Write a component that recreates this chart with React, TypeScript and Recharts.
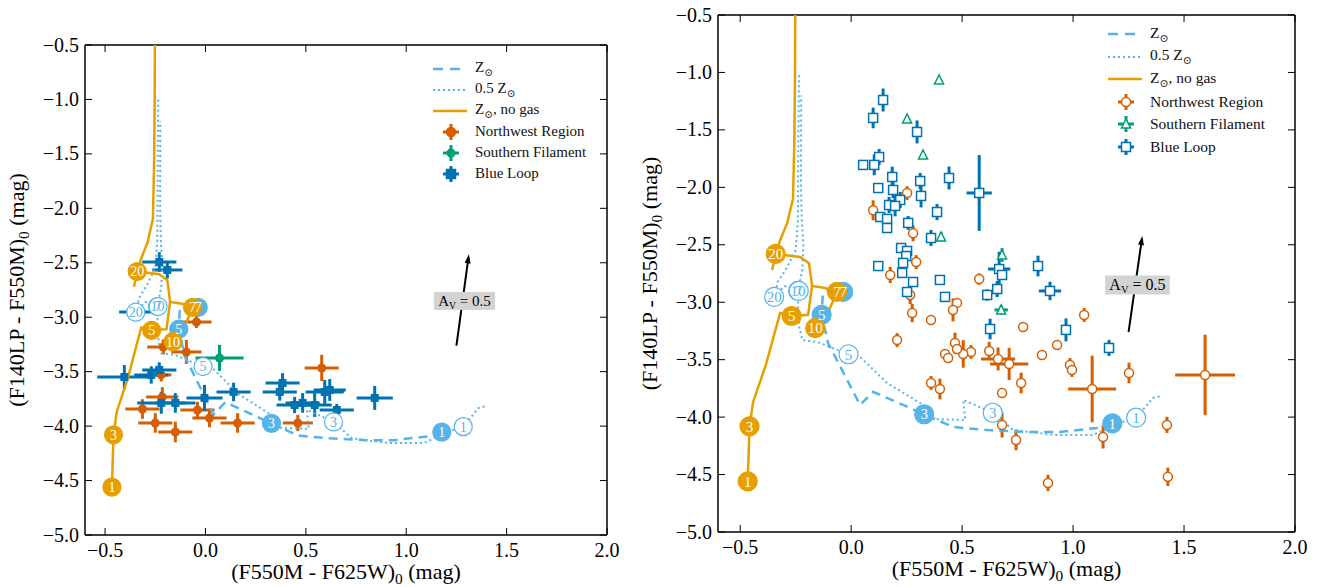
import React from "react";
import { ComposedChart, Scatter, XAxis, YAxis, ErrorBar } from "recharts";

const ORANGE = "#E69F00";
const VERMILION = "#D55E00";
const GREEN = "#009E73";
const BLUE = "#0072B2";
const SKY = "#56B4E9";
const FONT = "'Liberation Serif', 'DejaVu Serif', serif";

const xTicks = [-0.5, 0, 0.5, 1, 1.5, 2];
const yTicks = [-5, -4.5, -4, -3.5, -3, -2.5, -2, -1.5, -1, -0.5];

// model tracks (same in both panels)
const noGasUpper = [
  { x: -0.252, y: -0.5 }, { x: -0.253, y: -1.0 }, { x: -0.256, y: -1.6 }, { x: -0.262, y: -2.1 },
  { x: -0.288, y: -2.31 }, { x: -0.32, y: -2.46 }, { x: -0.34, y: -2.58 }, { x: -0.356, y: -2.72 },
  { x: -0.34, y: -2.58 }, { x: -0.23, y: -2.606 }, { x: -0.19, y: -2.66 }, { x: -0.176, y: -2.859 },
  { x: -0.117, y: -2.876 }, { x: -0.064, y: -2.91 }, { x: -0.1, y: -3.07 }, { x: -0.162, y: -3.225 },
];
const noGasLower = [
  { x: -0.466, y: -4.56 }, { x: -0.458, y: -4.08 }, { x: -0.442, y: -3.87 }, { x: -0.385, y: -3.55 },
  { x: -0.32, y: -3.094 }, { x: -0.268, y: -3.12 }, { x: -0.194, y: -3.11 }, { x: -0.185, y: -2.98 },
  { x: -0.176, y: -2.859 },
];
const solarTrack = [
  { x: 1.177, y: -4.055 }, { x: 1.108, y: -4.094 }, { x: 0.941, y: -4.129 }, { x: 0.793, y: -4.129 },
  { x: 0.613, y: -4.112 }, { x: 0.459, y: -4.086 }, { x: 0.329, y: -3.975 }, { x: 0.099, y: -3.78 },
  { x: 0.04, y: -3.894 }, { x: -0.081, y: -3.44 }, { x: -0.104, y: -3.355 }, { x: -0.133, y: -3.11 },
  { x: -0.128, y: -2.94 }, { x: -0.09, y: -2.87 }, { x: -0.036, y: -2.91 },
];
const halfSolarTrack = [
  { x: 1.39, y: -3.82 }, { x: 1.36, y: -3.833 }, { x: 1.284, y: -4.005 }, { x: 1.21, y: -4.05 },
  { x: 1.09, y: -4.155 }, { x: 0.91, y: -4.155 }, { x: 0.73, y: -4.112 }, { x: 0.638, y: -3.962 },
  { x: 0.505, y: -3.85 }, { x: 0.514, y: -4.025 }, { x: 0.369, y: -4.016 }, { x: 0.311, y: -3.877 },
  { x: 0.162, y: -3.703 }, { x: 0.04, y: -3.476 }, { x: -0.012, y: -3.453 }, { x: -0.153, y: -3.346 },
  { x: -0.22, y: -3.33 }, { x: -0.234, y: -3.215 }, { x: -0.239, y: -3.04 }, { x: -0.239, y: -2.902 },
  { x: -0.3, y: -2.86 }, { x: -0.347, y: -2.954 },
];
const halfSolarUpper = [
  { x: -0.347, y: -2.954 }, { x: -0.33, y: -2.82 }, { x: -0.29, y: -2.7 }, { x: -0.25, y: -2.55 },
  { x: -0.24, y: -2.3 }, { x: -0.238, y: -1.6 }, { x: -0.235, y: -1.0 },
];
const halfSolarLoop = [
  { x: -0.239, y: -2.902 }, { x: -0.22, y: -2.72 }, { x: -0.215, y: -2.5 }, { x: -0.222, y: -2.3 },
  { x: -0.226, y: -2.0 }, { x: -0.225, y: -1.2 },
];

const noGasLabels = [
  { x: -0.466, y: -4.56, t: "1" }, { x: -0.458, y: -4.08, t: "3" }, { x: -0.268, y: -3.12, t: "5" },
  { x: -0.064, y: -2.91, t: "7" }, { x: -0.162, y: -3.225, t: "10" }, { x: -0.34, y: -2.58, t: "20" },
];
const solarLabels = [
  { x: 1.177, y: -4.055, t: "1" }, { x: 0.329, y: -3.975, t: "3" }, { x: -0.133, y: -3.11, t: "5" },
  { x: -0.036, y: -2.91, t: "7" },
];
const halfSolarLabels = [
  { x: 1.284, y: -4.005, t: "1" }, { x: 0.638, y: -3.962, t: "3" }, { x: -0.012, y: -3.453, t: "5" },
  { x: -0.239, y: -2.902, t: "10" }, { x: -0.236, y: -2.902, t: "7" }, { x: -0.347, y: -2.954, t: "20" },
];

// extinction vector
const avArrow = [{ x: 1.25, y: -3.26 }, { x: 1.31, y: -2.45 }];
const avLabel = [{ x: 1.29, y: -2.85 }];

// left panel: binned regions
const leftNorthwest = [
  { x: -0.045, y: -3.044, ex: 0.075, ey: 0.055 }, { x: -0.21, y: -3.273, ex: 0.08, ey: 0.07 },
  { x: -0.095, y: -3.319, ex: 0.075, ey: 0.11 }, { x: 0.579, y: -3.466, ex: 0.085, ey: 0.12 },
  { x: -0.22, y: -3.53, ex: 0.05, ey: 0.06 }, { x: -0.215, y: -3.732, ex: 0.08, ey: 0.09 },
  { x: -0.314, y: -3.843, ex: 0.085, ey: 0.09 }, { x: -0.04, y: -3.852, ex: 0.085, ey: 0.075 },
  { x: 0.02, y: -3.925, ex: 0.085, ey: 0.085 }, { x: -0.25, y: -3.971, ex: 0.085, ey: 0.09 },
  { x: 0.16, y: -3.971, ex: 0.085, ey: 0.09 }, { x: 0.46, y: -3.971, ex: 0.075, ey: 0.075 },
  { x: -0.15, y: -4.054, ex: 0.085, ey: 0.095 },
];
const leftSouthern = [{ x: 0.07, y: -3.374, ex: 0.12, ey: 0.12 }];
const leftBlueLoop = [
  { x: -0.23, y: -2.493, ex: 0.085, ey: 0.09 }, { x: -0.19, y: -2.566, ex: 0.075, ey: 0.08 },
  { x: -0.33, y: -2.952, ex: 0.1, ey: 0.07 }, { x: -0.404, y: -3.549, ex: 0.135, ey: 0.11 },
  { x: -0.27, y: -3.53, ex: 0.085, ey: 0.08 }, { x: -0.23, y: -3.484, ex: 0.085, ey: 0.07 },
  { x: -0.22, y: -3.787, ex: 0.12, ey: 0.1 }, { x: -0.15, y: -3.787, ex: 0.1, ey: 0.09 },
  { x: -0.005, y: -3.741, ex: 0.09, ey: 0.12 }, { x: 0.14, y: -3.686, ex: 0.085, ey: 0.085 },
  { x: 0.384, y: -3.604, ex: 0.085, ey: 0.09 }, { x: 0.37, y: -3.686, ex: 0.085, ey: 0.08 },
  { x: 0.444, y: -3.806, ex: 0.09, ey: 0.075 }, { x: 0.484, y: -3.787, ex: 0.085, ey: 0.09 },
  { x: 0.544, y: -3.806, ex: 0.085, ey: 0.11 }, { x: 0.594, y: -3.686, ex: 0.095, ey: 0.11 },
  { x: 0.619, y: -3.668, ex: 0.08, ey: 0.1 }, { x: 0.654, y: -3.852, ex: 0.085, ey: 0.055 },
  { x: 0.843, y: -3.741, ex: 0.09, ey: 0.11 },
];

// right panel: individual clusters
const rightNorthwest = [
  { x: 0.099, y: -2.2, ex: 0, ey: 0.087 }, { x: 0.252, y: -2.05, ex: 0, ey: 0.06 },
  { x: 0.279, y: -2.4, ex: 0, ey: 0.07 }, { x: 0.293, y: -2.65, ex: 0, ey: 0.06 },
  { x: 0.176, y: -2.763, ex: 0, ey: 0.07 }, { x: 0.266, y: -2.937, ex: 0, ey: 0.08 },
  { x: 0.275, y: -3.094, ex: 0, ey: 0.08 }, { x: 0.207, y: -3.329, ex: 0, ey: 0.06 },
  { x: 0.36, y: -3.155, ex: 0, ey: 0.04 }, { x: 0.577, y: -2.798, ex: 0, ey: 0.05 },
  { x: 0.477, y: -3.006, ex: 0, ey: 0 }, { x: 0.459, y: -3.067, ex: 0, ey: 0.1 },
  { x: 0.775, y: -3.215, ex: 0, ey: 0 }, { x: 1.05, y: -3.111, ex: 0, ey: 0.06 },
  { x: 0.928, y: -3.372, ex: 0, ey: 0 }, { x: 0.86, y: -3.459, ex: 0, ey: 0 },
  { x: 0.986, y: -3.546, ex: 0, ey: 0.06 }, { x: 0.995, y: -3.59, ex: 0, ey: 0.06 },
  { x: 1.252, y: -3.616, ex: 0, ey: 0.09 }, { x: 1.086, y: -3.755, ex: 0.108, ey: 0.29 },
  { x: 0.766, y: -3.703, ex: 0, ey: 0.09 }, { x: 0.68, y: -3.79, ex: 0, ey: 0 },
  { x: 0.712, y: -3.537, ex: 0.086, ey: 0.14 }, { x: 0.662, y: -3.494, ex: 0.077, ey: 0.1 },
  { x: 0.622, y: -3.424, ex: 0, ey: 0.08 }, { x: 0.54, y: -3.433, ex: 0, ey: 0.06 },
  { x: 0.505, y: -3.45, ex: 0, ey: 0.12 }, { x: 0.468, y: -3.355, ex: 0, ey: 0.09 },
  { x: 0.477, y: -3.407, ex: 0, ey: 0 }, { x: 0.423, y: -3.45, ex: 0, ey: 0 },
  { x: 0.437, y: -3.485, ex: 0, ey: 0 }, { x: 0.4, y: -3.755, ex: 0, ey: 0.09 },
  { x: 0.36, y: -3.703, ex: 0, ey: 0.06 }, { x: 0.68, y: -4.068, ex: 0, ey: 0.11 },
  { x: 0.743, y: -4.199, ex: 0, ey: 0.09 }, { x: 1.135, y: -4.173, ex: 0, ey: 0.1 },
  { x: 1.595, y: -3.633, ex: 0.135, ey: 0.35 }, { x: 0.887, y: -4.573, ex: 0, ey: 0.07 },
  { x: 1.423, y: -4.068, ex: 0, ey: 0.07 }, { x: 1.427, y: -4.52, ex: 0, ey: 0.08 },
];
const rightSouthern = [
  { x: 0.396, y: -1.066, ex: 0, ey: 0 }, { x: 0.252, y: -1.405, ex: 0, ey: 0 },
  { x: 0.324, y: -1.718, ex: 0, ey: 0 }, { x: 0.405, y: -2.432, ex: 0, ey: 0.04 },
  { x: 0.68, y: -2.589, ex: 0, ey: 0.06 }, { x: 0.676, y: -3.067, ex: 0.03, ey: 0.04 },
];
const rightBlueLoop = [
  { x: 0.144, y: -1.24, ex: 0, ey: 0.1 }, { x: 0.099, y: -1.396, ex: 0, ey: 0.09 },
  { x: 0.297, y: -1.518, ex: 0, ey: 0.1 }, { x: 0.126, y: -1.736, ex: 0, ey: 0.07 },
  { x: 0.054, y: -1.805, ex: 0, ey: 0.04 }, { x: 0.104, y: -1.805, ex: 0, ey: 0.09 },
  { x: 0.185, y: -1.91, ex: 0, ey: 0.09 }, { x: 0.311, y: -1.945, ex: 0, ey: 0.07 },
  { x: 0.441, y: -1.919, ex: 0, ey: 0.1 }, { x: 0.122, y: -2.006, ex: 0, ey: 0.04 },
  { x: 0.189, y: -2.023, ex: 0, ey: 0.07 }, { x: 0.315, y: -2.075, ex: 0, ey: 0.1 },
  { x: 0.221, y: -2.11, ex: 0, ey: 0.07 }, { x: 0.171, y: -2.154, ex: 0, ey: 0.07 },
  { x: 0.198, y: -2.162, ex: 0, ey: 0.09 }, { x: 0.577, y: -2.049, ex: 0.057, ey: 0.33 },
  { x: 0.387, y: -2.215, ex: 0, ey: 0.07 }, { x: 0.131, y: -2.258, ex: 0, ey: 0 },
  { x: 0.162, y: -2.275, ex: 0, ey: 0.04 }, { x: 0.257, y: -2.31, ex: 0, ey: 0.06 },
  { x: 0.162, y: -2.354, ex: 0, ey: 0 }, { x: 0.36, y: -2.441, ex: 0, ey: 0.07 },
  { x: 0.225, y: -2.528, ex: 0, ey: 0 }, { x: 0.252, y: -2.554, ex: 0, ey: 0 },
  { x: 0.248, y: -2.598, ex: 0, ey: 0 }, { x: 0.122, y: -2.685, ex: 0, ey: 0 },
  { x: 0.234, y: -2.658, ex: 0, ey: 0.03 }, { x: 0.23, y: -2.745, ex: 0, ey: 0.04 },
  { x: 0.279, y: -2.824, ex: 0, ey: 0.04 }, { x: 0.252, y: -2.911, ex: 0, ey: 0.04 },
  { x: 0.4, y: -2.806, ex: 0, ey: 0.04 }, { x: 0.423, y: -2.954, ex: 0, ey: 0.04 },
  { x: 0.667, y: -2.711, ex: 0.05, ey: 0.15 }, { x: 0.68, y: -2.763, ex: 0, ey: 0 },
  { x: 0.658, y: -2.885, ex: 0, ey: 0.07 }, { x: 0.613, y: -2.937, ex: 0, ey: 0.05 },
  { x: 0.842, y: -2.685, ex: 0, ey: 0.09 }, { x: 0.896, y: -2.902, ex: 0.05, ey: 0.08 },
  { x: 0.626, y: -3.233, ex: 0, ey: 0.09 }, { x: 0.968, y: -3.241, ex: 0, ey: 0.1 },
  { x: 1.162, y: -3.398, ex: 0, ey: 0.07 },
];

function fmt(v: number) {
  const s = Math.abs(v).toFixed(1);
  return v < 0 ? "\u2212" + s : s;
}

const TICK = 7;

function Panel(props: any) {
  const { width, height, margin, northwest, southern, blueLoop, open, labelR, labelFs, tickFs, titleFs, yTitleDx } = props;

  const BottomTick = (p: any) => (
    <g>
      <line x1={p.x} x2={p.x} y1={p.y} y2={p.y - TICK} stroke="#000" />
      <text x={p.x} y={p.y + tickFs + 2} textAnchor="middle" fontFamily={FONT} fontSize={tickFs} fill="#000">
        {fmt(p.payload.value)}
      </text>
    </g>
  );
  const LeftTick = (p: any) => (
    <g>
      <line x1={p.x} x2={p.x + TICK} y1={p.y} y2={p.y} stroke="#000" />
      <text x={p.x - 6} y={p.y + tickFs * 0.33} textAnchor="end" fontFamily={FONT} fontSize={tickFs} fill="#000">
        {fmt(p.payload.value)}
      </text>
    </g>
  );
  const TopTick = (p: any) => <line x1={p.x} x2={p.x} y1={p.y} y2={p.y + TICK} stroke="#000" />;
  const RightTick = (p: any) => <line x1={p.x} x2={p.x - TICK} y1={p.y} y2={p.y} stroke="#000" />;

  const XTitle = (p: any) => {
    const vb = p.viewBox;
    return (
      <text x={vb.x + vb.width / 2} y={vb.y + 44} textAnchor="middle" fontFamily={FONT} fontSize={titleFs} fill="#000">
        (F550M - F625W)<tspan dy={5} fontSize={titleFs * 0.7}>0</tspan><tspan dy={-5}> (mag)</tspan>
      </text>
    );
  };
  const YTitle = (p: any) => {
    const vb = p.viewBox;
    const cx = vb.x + yTitleDx;
    const cy = vb.y + vb.height / 2;
    return (
      <text x={cx} y={cy} transform={`rotate(-90, ${cx}, ${cy})`} textAnchor="middle" fontFamily={FONT} fontSize={titleFs} fill="#000">
        (F140LP - F550M)<tspan dy={5} fontSize={titleFs * 0.7}>0</tspan><tspan dy={-5}> (mag)</tspan>
      </text>
    );
  };

  const none = () => <g />;
  const labelShape = (fill: string, stroke: string, color: string, circle: boolean, text: boolean) => (p: any) => (
    <g>
      {circle && <circle cx={p.cx} cy={p.cy} r={labelR} fill={fill} stroke={stroke} strokeWidth={1.2} />}
      {text && (
        <text x={p.cx} y={p.cy + labelFs * 0.35} textAnchor="middle" fontFamily={FONT} fontSize={labelFs} fill={color}>
          {p.payload.t}
        </text>
      )}
    </g>
  );

  const nwShape = (p: any) =>
    open ? (
      <circle cx={p.cx} cy={p.cy} r={4.5} fill="#fff" stroke={VERMILION} strokeWidth={1.5} />
    ) : (
      <circle cx={p.cx} cy={p.cy} r={4.5} fill={VERMILION} />
    );
  const blShape = (p: any) =>
    open ? (
      <rect x={p.cx - 4.5} y={p.cy - 4.5} width={9} height={9} fill="#fff" stroke={BLUE} strokeWidth={1.5} />
    ) : (
      <rect x={p.cx - 4} y={p.cy - 4} width={8} height={8} fill={BLUE} />
    );
  const sfShape = (p: any) =>
    open ? (
      <polygon points={`${p.cx},${p.cy - 5} ${p.cx - 4.5},${p.cy + 4} ${p.cx + 4.5},${p.cy + 4}`} fill="#fff" stroke={GREEN} strokeWidth={1.5} />
    ) : (
      <circle cx={p.cx} cy={p.cy} r={4.5} fill={GREEN} />
    );

  const tipY = Math.max(...avArrow.map((d) => d.y));
  const arrowShape = (p: any) =>
    p.payload.y === tipY ? (
      <polygon
        points={`${p.cx},${p.cy - 3} ${p.cx - 3},${p.cy + 6} ${p.cx + 3},${p.cy + 6}`}
        transform={`rotate(8.5, ${p.cx}, ${p.cy})`}
        fill="#000"
      />
    ) : (
      <g />
    );
  const avShape = (p: any) => (
    <g>
      <rect x={p.cx - labelR * 3.4} y={p.cy - labelR} width={labelR * 6.8} height={labelR * 2} fill="#d3d3d3" />
      <text x={p.cx} y={p.cy + 5} textAnchor="middle" fontFamily={FONT} fontSize={labelFs + 1} fill="#000">
        A<tspan dy={3} fontSize={labelFs * 0.7}>V</tspan><tspan dy={-3}> = 0.5</tspan>
      </text>
    </g>
  );

  const errW = 3;
  const series = (data: any[], color: string, shape: any) => (
    <Scatter data={data} fill={color} shape={shape} isAnimationActive={false}>
      <ErrorBar dataKey="ex" direction="x" width={0} stroke={color} strokeWidth={errW} />
      <ErrorBar dataKey="ey" direction="y" width={0} stroke={color} strokeWidth={errW} />
    </Scatter>
  );

  return (
    <ComposedChart width={width} height={height} margin={margin}>
      <XAxis dataKey="x" type="number" domain={[-0.6, 2]} ticks={xTicks} interval={0} allowDataOverflow
        tickSize={0} tickMargin={0} tick={<BottomTick />} height={50} axisLine={{ stroke: "#000", strokeWidth: 1.5 }}
        label={<XTitle />} />
      <XAxis xAxisId="top" dataKey="x" orientation="top" type="number" domain={[-0.6, 2]} ticks={xTicks} interval={0} allowDataOverflow
        tickSize={0} tickMargin={0} tick={<TopTick />} height={1} axisLine={{ stroke: "#000", strokeWidth: 1.5 }} />
      <YAxis dataKey="y" type="number" domain={[-5, -0.5]} ticks={yTicks} interval={0} allowDataOverflow
        tickSize={0} tickMargin={0} tick={<LeftTick />} width={55} axisLine={{ stroke: "#000", strokeWidth: 1.5 }}
        label={<YTitle />} />
      <YAxis yAxisId="right" dataKey="y" orientation="right" type="number" domain={[-5, -0.5]} ticks={yTicks} interval={0} allowDataOverflow
        tickSize={0} tickMargin={0} tick={<RightTick />} width={1} axisLine={{ stroke: "#000", strokeWidth: 1.5 }} />

      <Scatter data={halfSolarTrack} shape={none} line={{ stroke: SKY, strokeWidth: 2, strokeDasharray: "2 3" }} lineType="joint" isAnimationActive={false} />
      <Scatter data={halfSolarUpper} shape={none} line={{ stroke: SKY, strokeWidth: 2, strokeDasharray: "2 3" }} lineType="joint" isAnimationActive={false} />
      <Scatter data={halfSolarLoop} shape={none} line={{ stroke: SKY, strokeWidth: 2, strokeDasharray: "2 3" }} lineType="joint" isAnimationActive={false} />
      <Scatter data={solarTrack} shape={none} line={{ stroke: SKY, strokeWidth: 2.5, strokeDasharray: "9 6" }} lineType="joint" isAnimationActive={false} />
      <Scatter data={noGasUpper} shape={none} line={{ stroke: ORANGE, strokeWidth: 2.5 }} lineType="joint" isAnimationActive={false} />
      <Scatter data={noGasLower} shape={none} line={{ stroke: ORANGE, strokeWidth: 2.5 }} lineType="joint" isAnimationActive={false} />

      {series(northwest, VERMILION, nwShape)}
      {series(southern, GREEN, sfShape)}
      {series(blueLoop, BLUE, blShape)}

      <Scatter data={halfSolarLabels} shape={labelShape("#fff", SKY, SKY, true, false)} isAnimationActive={false} />
      <Scatter data={halfSolarLabels} shape={labelShape("#fff", SKY, SKY, false, true)} isAnimationActive={false} />
      <Scatter data={solarLabels} shape={labelShape(SKY, SKY, "#fff", true, false)} isAnimationActive={false} />
      <Scatter data={noGasLabels} shape={labelShape(ORANGE, ORANGE, "#fff", true, false)} isAnimationActive={false} />
      <Scatter data={solarLabels} shape={labelShape(SKY, SKY, "#fff", false, true)} isAnimationActive={false} />
      <Scatter data={noGasLabels} shape={labelShape(ORANGE, ORANGE, "#fff", false, true)} isAnimationActive={false} />

      <Scatter data={avArrow} shape={arrowShape} line={{ stroke: "#000", strokeWidth: 2 }} lineType="joint" isAnimationActive={false} />
      <Scatter data={avLabel} shape={avShape} isAnimationActive={false} />
      {/* keeps the frame axes (top / right) bound to a series */}
      <Scatter xAxisId="top" yAxisId="right" data={avLabel} shape={none} isAnimationActive={false} />
    </ComposedChart>
  );
}

function LegendIcon({ kind, open }: { kind: string; open: boolean }) {
  const c = kind === "nw" ? VERMILION : kind === "sf" ? GREEN : BLUE;
  return (
    <svg width={40} height={20} style={{ display: "block" }}>
      {kind === "solar" && <line x1={3} x2={37} y1={10} y2={10} stroke={SKY} strokeWidth={2.5} strokeDasharray="10 7" />}
      {kind === "half" && <line x1={3} x2={37} y1={10} y2={10} stroke={SKY} strokeWidth={2} strokeDasharray="2 3" />}
      {kind === "nogas" && <line x1={3} x2={37} y1={10} y2={10} stroke={ORANGE} strokeWidth={2.5} />}
      {(kind === "nw" || kind === "sf" || kind === "bl") && (
        <g>
          <line x1={13} x2={29} y1={10} y2={10} stroke={c} strokeWidth={3} />
          <line x1={21} x2={21} y1={2} y2={18} stroke={c} strokeWidth={3} />
          {kind === "nw" && <circle cx={21} cy={10} r={4.5} fill={open ? "#fff" : c} stroke={c} strokeWidth={1.5} />}
          {kind === "bl" && <rect x={16.5} y={5.5} width={9} height={9} fill={open ? "#fff" : c} stroke={c} strokeWidth={1.5} />}
          {kind === "sf" && (open
            ? <polygon points="21,5 16.5,14 25.5,14" fill="#fff" stroke={c} strokeWidth={1.5} />
            : <circle cx={21} cy={10} r={4.5} fill={c} />)}
        </g>
      )}
    </svg>
  );
}

function ChartLegend({ left, top, rowH, fs, open }: any) {
  const Z = () => <span>Z<sub style={{ fontSize: "0.7em", verticalAlign: "-0.35em" }}>⊙</sub></span>;
  const rows: [string, React.ReactNode][] = [
    ["solar", <Z />],
    ["half", <span>0.5 <Z /></span>],
    ["nogas", <span><Z />, no gas</span>],
    ["nw", "Northwest Region"],
    ["sf", "Southern Filament"],
    ["bl", "Blue Loop"],
  ];
  return (
    <div style={{ position: "absolute", left, top, fontFamily: FONT, fontSize: fs, color: "#111" }}>
      {rows.map(([k, t]) => (
        <div key={k} style={{ display: "flex", alignItems: "center", height: rowH, whiteSpace: "nowrap" }}>
          <LegendIcon kind={k} open={open} />
          <span style={{ marginLeft: 5 }}>{t}</span>
        </div>
      ))}
    </div>
  );
}

export default function App() {
  return (
    <div style={{ position: "absolute", left: 0, top: 0, width: 1327, height: 587, background: "#fff", overflow: "hidden" }}>
      <div style={{ position: "absolute", left: 0, top: 0 }}>
        <Panel width={620} height={587} margin={{ top: 44, right: 12, bottom: 2, left: 30 }}
          northwest={leftNorthwest} southern={leftSouthern} blueLoop={leftBlueLoop} open={false}
          labelR={9} labelFs={14} tickFs={20} titleFs={22} yTitleDx={-6} />
      </div>
      <div style={{ position: "absolute", left: 625, top: 0 }}>
        <Panel width={702} height={587} margin={{ top: 14, right: 31, bottom: 5, left: 38 }}
          northwest={rightNorthwest} southern={rightSouthern} blueLoop={rightBlueLoop} open={true}
          labelR={9.5} labelFs={15} tickFs={20} titleFs={22} yTitleDx={-6} />
      </div>
      <ChartLegend left={430} top={58} rowH={21} fs={15} open={false} />
      <ChartLegend left={1105} top={23} rowH={22.5} fs={15.5} open={true} />
    </div>
  );
}
